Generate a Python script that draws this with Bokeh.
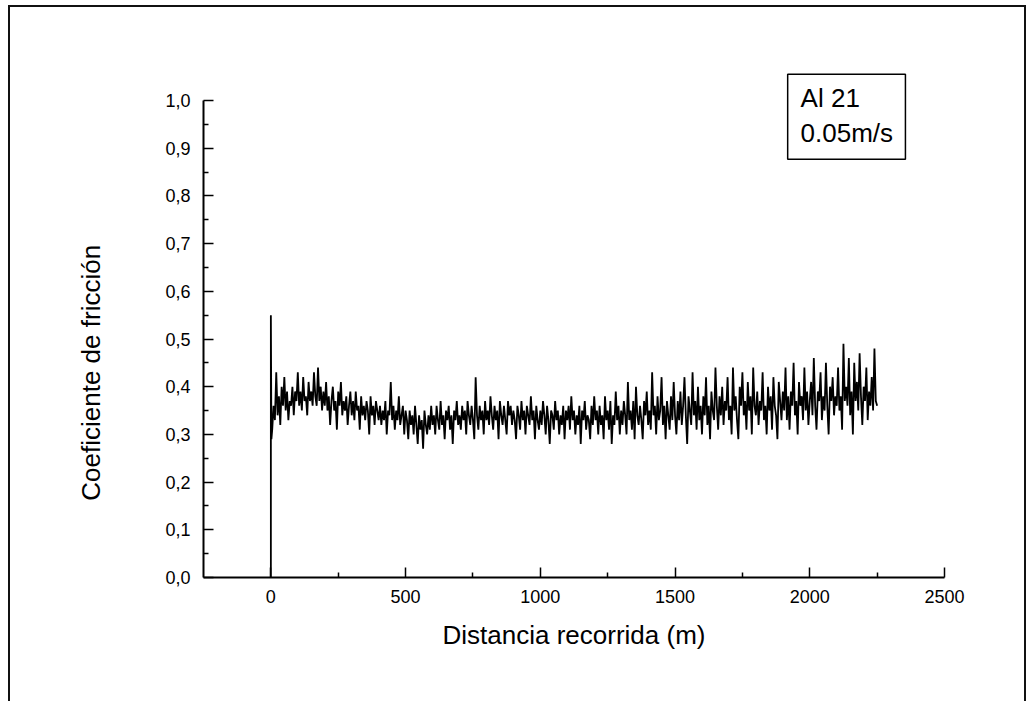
from bokeh.plotting import figure
from bokeh.models import Range1d, FixedTicker, CustomJSTickFormatter, Label, BoxAnnotation
from bokeh.embed import file_html
from bokeh.resources import INLINE

# --- data (distance in m, friction coefficient) ---
distancia = [
    0, 0, 2,
    5, 10, 15, 20, 25, 30, 35, 40, 45, 50, 55, 60, 65, 70, 75, 80, 85, 90, 95, 100,
    105, 110, 115, 120, 125, 130, 135, 140, 145, 150, 155, 160, 165, 170, 175, 180, 185, 190, 195, 200,
    205, 210, 215, 220, 225, 230, 235, 240, 245, 250, 255, 260, 265, 270, 275, 280, 285, 290, 295, 300,
    305, 310, 315, 320, 325, 330, 335, 340, 345, 350, 355, 360, 365, 370, 375, 380, 385, 390, 395, 400,
    405, 410, 415, 420, 425, 430, 435, 440, 445, 450, 455, 460, 465, 470, 475, 480, 485, 490, 495, 500,
    505, 510, 515, 520, 525, 530, 535, 540, 545, 550, 555, 560, 565, 570, 575, 580, 585, 590, 595, 600,
    605, 610, 615, 620, 625, 630, 635, 640, 645, 650, 655, 660, 665, 670, 675, 680, 685, 690, 695, 700,
    705, 710, 715, 720, 725, 730, 735, 740, 745, 750, 755, 760, 765, 770, 775, 780, 785, 790, 795, 800,
    805, 810, 815, 820, 825, 830, 835, 840, 845, 850, 855, 860, 865, 870, 875, 880, 885, 890, 895, 900,
    905, 910, 915, 920, 925, 930, 935, 940, 945, 950, 955, 960, 965, 970, 975, 980, 985, 990, 995, 1000,
    1005, 1010, 1015, 1020, 1025, 1030, 1035, 1040, 1045, 1050, 1055, 1060, 1065, 1070, 1075, 1080, 1085, 1090, 1095, 1100,
    1105, 1110, 1115, 1120, 1125, 1130, 1135, 1140, 1145, 1150, 1155, 1160, 1165, 1170, 1175, 1180, 1185, 1190, 1195, 1200,
    1205, 1210, 1215, 1220, 1225, 1230, 1235, 1240, 1245, 1250, 1255, 1260, 1265, 1270, 1275, 1280, 1285, 1290, 1295, 1300,
    1305, 1310, 1315, 1320, 1325, 1330, 1335, 1340, 1345, 1350, 1355, 1360, 1365, 1370, 1375, 1380, 1385, 1390, 1395, 1400,
    1405, 1410, 1415, 1420, 1425, 1430, 1435, 1440, 1445, 1450, 1455, 1460, 1465, 1470, 1475, 1480, 1485, 1490, 1495, 1500,
    1505, 1510, 1515, 1520, 1525, 1530, 1535, 1540, 1545, 1550, 1555, 1560, 1565, 1570, 1575, 1580, 1585, 1590, 1595, 1600,
    1605, 1610, 1615, 1620, 1625, 1630, 1635, 1640, 1645, 1650, 1655, 1660, 1665, 1670, 1675, 1680, 1685, 1690, 1695, 1700,
    1705, 1710, 1715, 1720, 1725, 1730, 1735, 1740, 1745, 1750, 1755, 1760, 1765, 1770, 1775, 1780, 1785, 1790, 1795, 1800,
    1805, 1810, 1815, 1820, 1825, 1830, 1835, 1840, 1845, 1850, 1855, 1860, 1865, 1870, 1875, 1880, 1885, 1890, 1895, 1900,
    1905, 1910, 1915, 1920, 1925, 1930, 1935, 1940, 1945, 1950, 1955, 1960, 1965, 1970, 1975, 1980, 1985, 1990, 1995, 2000,
    2005, 2010, 2015, 2020, 2025, 2030, 2035, 2040, 2045, 2050, 2055, 2060, 2065, 2070, 2075, 2080, 2085, 2090, 2095, 2100,
    2105, 2110, 2115, 2120, 2125, 2130, 2135, 2140, 2145, 2150, 2155, 2160, 2165, 2170, 2175, 2180, 2185, 2190, 2195, 2200,
    2205, 2210, 2215, 2220, 2225, 2230, 2235, 2240, 2245, 2250,
]
coeficiente = [
    0.00, 0.55, 0.29,
    0.31, 0.36, 0.33, 0.43, 0.34, 0.38, 0.32, 0.40, 0.36, 0.42, 0.35, 0.39, 0.33, 0.37, 0.36, 0.40, 0.34, 0.39, 0.37, 0.43,
    0.36, 0.39, 0.35, 0.42, 0.37, 0.38, 0.34, 0.41, 0.37, 0.39, 0.36, 0.43, 0.38, 0.36, 0.44, 0.37, 0.40, 0.35, 0.39, 0.36,
    0.41, 0.35, 0.38, 0.32, 0.37, 0.40, 0.35, 0.37, 0.31, 0.39, 0.36, 0.41, 0.34, 0.37, 0.35, 0.38, 0.32, 0.36, 0.39, 0.34,
    0.37, 0.33, 0.39, 0.35, 0.36, 0.31, 0.38, 0.34, 0.36, 0.33, 0.37, 0.35, 0.30, 0.38, 0.34, 0.36, 0.32, 0.37, 0.35, 0.33,
    0.36, 0.32, 0.35, 0.33, 0.37, 0.30, 0.35, 0.34, 0.41, 0.33, 0.36, 0.31, 0.35, 0.33, 0.38, 0.32, 0.34, 0.36, 0.30, 0.35,
    0.33, 0.29, 0.35, 0.32, 0.34, 0.30, 0.36, 0.32, 0.28, 0.34, 0.31, 0.33, 0.27, 0.35, 0.32, 0.30, 0.34, 0.31, 0.36, 0.32,
    0.34, 0.30, 0.36, 0.33, 0.31, 0.37, 0.32, 0.34, 0.29, 0.35, 0.33, 0.36, 0.31, 0.34, 0.28, 0.35, 0.33, 0.37, 0.32, 0.34,
    0.31, 0.36, 0.33, 0.35, 0.30, 0.37, 0.34, 0.32, 0.36, 0.33, 0.29, 0.42, 0.34, 0.31, 0.36, 0.33, 0.35, 0.30, 0.37, 0.33,
    0.35, 0.32, 0.38, 0.34, 0.31, 0.36, 0.33, 0.35, 0.29, 0.37, 0.34, 0.32, 0.36, 0.33, 0.30, 0.37, 0.34, 0.36, 0.32, 0.35,
    0.33, 0.29, 0.36, 0.34, 0.31, 0.37, 0.33, 0.35, 0.30, 0.36, 0.34, 0.32, 0.38, 0.33, 0.35, 0.29, 0.36, 0.33, 0.31, 0.35,
    0.32, 0.37, 0.34, 0.30, 0.36, 0.33, 0.28, 0.35, 0.34, 0.31, 0.37, 0.33, 0.35, 0.30, 0.34, 0.32, 0.36, 0.29, 0.35, 0.33,
    0.36, 0.31, 0.38, 0.33, 0.35, 0.30, 0.34, 0.32, 0.36, 0.28, 0.35, 0.33, 0.37, 0.31, 0.34, 0.33, 0.29, 0.36, 0.32, 0.38,
    0.33, 0.35, 0.30, 0.36, 0.32, 0.34, 0.29, 0.38, 0.33, 0.35, 0.31, 0.37, 0.28, 0.34, 0.32, 0.39, 0.33, 0.36, 0.30, 0.35,
    0.32, 0.37, 0.34, 0.30, 0.41, 0.33, 0.35, 0.31, 0.37, 0.29, 0.40, 0.34, 0.32, 0.36, 0.33, 0.29, 0.37, 0.34, 0.39, 0.32,
    0.35, 0.31, 0.43, 0.34, 0.36, 0.30, 0.38, 0.33, 0.35, 0.42, 0.32, 0.36, 0.29, 0.37, 0.34, 0.31, 0.38, 0.33, 0.41, 0.34,
    0.30, 0.37, 0.33, 0.39, 0.32, 0.36, 0.42, 0.34, 0.28, 0.38, 0.35, 0.32, 0.43, 0.34, 0.37, 0.31, 0.40, 0.33, 0.36, 0.30,
    0.38, 0.34, 0.42, 0.32, 0.36, 0.29, 0.39, 0.35, 0.33, 0.44, 0.36, 0.31, 0.38, 0.34, 0.40, 0.32, 0.37, 0.35, 0.42, 0.33,
    0.36, 0.30, 0.44, 0.35, 0.38, 0.33, 0.29, 0.40, 0.36, 0.43, 0.34, 0.37, 0.31, 0.41, 0.35, 0.38, 0.30, 0.44, 0.36, 0.34,
    0.39, 0.32, 0.37, 0.35, 0.43, 0.33, 0.36, 0.30, 0.40, 0.35, 0.38, 0.31, 0.42, 0.36, 0.34, 0.29, 0.41, 0.37, 0.33, 0.39,
    0.35, 0.44, 0.33, 0.38, 0.31, 0.39, 0.36, 0.45, 0.34, 0.37, 0.30, 0.41, 0.36, 0.38, 0.33, 0.44, 0.35, 0.39, 0.32, 0.37,
    0.41, 0.34, 0.46, 0.36, 0.31, 0.39, 0.37, 0.43, 0.33, 0.38, 0.35, 0.45, 0.36, 0.30, 0.40, 0.37, 0.42, 0.34, 0.38, 0.36,
    0.44, 0.35, 0.38, 0.31, 0.49, 0.37, 0.40, 0.36, 0.46, 0.34, 0.39, 0.30, 0.45, 0.37, 0.41, 0.35, 0.47, 0.38, 0.32, 0.40,
    0.37, 0.44, 0.33, 0.39, 0.36, 0.42, 0.35, 0.48, 0.37, 0.36,
]
x_ticks = [0, 500, 1000, 1500, 2000, 2500]
x_minor = [250, 750, 1250, 1750, 2250]
y_ticks = [0.0, 0.1, 0.2, 0.3, 0.4, 0.5, 0.6, 0.7, 0.8, 0.9, 1.0]
y_minor = [0.05, 0.15, 0.25, 0.35, 0.45, 0.55, 0.65, 0.75, 0.85, 0.95]
leyenda = ["Al 21", "0.05m/s"]

FONT = "Liberation Sans"

p = figure(width=1018, height=696, output_backend="svg", toolbar_location=None,
           x_range=Range1d(-250, 2500), y_range=Range1d(0, 525 / 477),
           min_border_left=193, min_border_right=84, min_border_top=45, min_border_bottom=126)
p.styles = {"margin-left": "8px", "margin-top": "5px",
            "border-left": "2px solid #111", "border-top": "2px solid #111",
            "border-right": "2px solid #111"}
p.outline_line_color = None
p.grid.visible = False
p.background_fill_color = "white"
p.border_fill_color = "white"

p.line(distancia, coeficiente, line_color="black", line_width=1.8)

for ax in (p.xaxis[0], p.yaxis[0]):
    ax.axis_line_width = 2
    ax.axis_line_color = "black"
    ax.major_tick_in = 10
    ax.major_tick_out = 0
    ax.minor_tick_in = 5
    ax.minor_tick_out = 0
    ax.major_tick_line_width = 1.5
    ax.minor_tick_line_width = 1.5
    ax.major_label_text_font = FONT
    ax.major_label_text_font_size = "18px"
    ax.major_label_text_color = "black"
    ax.axis_label_text_font = FONT
    ax.axis_label_text_font_size = "26px"
    ax.axis_label_text_font_style = "normal"
    ax.axis_label_text_color = "black"

p.yaxis.bounds = (0, 1.0)
p.xaxis.ticker = FixedTicker(ticks=x_ticks, minor_ticks=x_minor)
p.yaxis.ticker = FixedTicker(ticks=y_ticks, minor_ticks=y_minor)
p.yaxis.formatter = CustomJSTickFormatter(code="return tick.toFixed(1).replace('.', ',');")
p.xaxis.major_label_standoff = 12
p.yaxis.major_label_standoff = 13
p.xaxis.axis_label = "Distancia recorrida (m)"
# trailing no-break spaces push the title down to where the reference has it
p.yaxis.axis_label = "Coeficiente de fricción" + "\u00a0" * 16
p.xaxis.axis_label_standoff = 14
p.yaxis.axis_label_standoff = 56

box = BoxAnnotation(left=1918, right=2355, bottom=0.877, top=1.055,
                    fill_color="white", fill_alpha=1.0,
                    line_color="black", line_alpha=1.0, line_width=1.5)
p.add_layout(box)
p.add_layout(Label(x=1966, y=1.006, text=leyenda[0], text_font=FONT,
                   text_font_size="26px", text_baseline="alphabetic", text_color="black"))
p.add_layout(Label(x=1966, y=0.931, text=leyenda[1], text_font=FONT,
                   text_font_size="26px", text_baseline="alphabetic", text_color="black"))

open("out.html", "w").write(file_html(p, INLINE))
